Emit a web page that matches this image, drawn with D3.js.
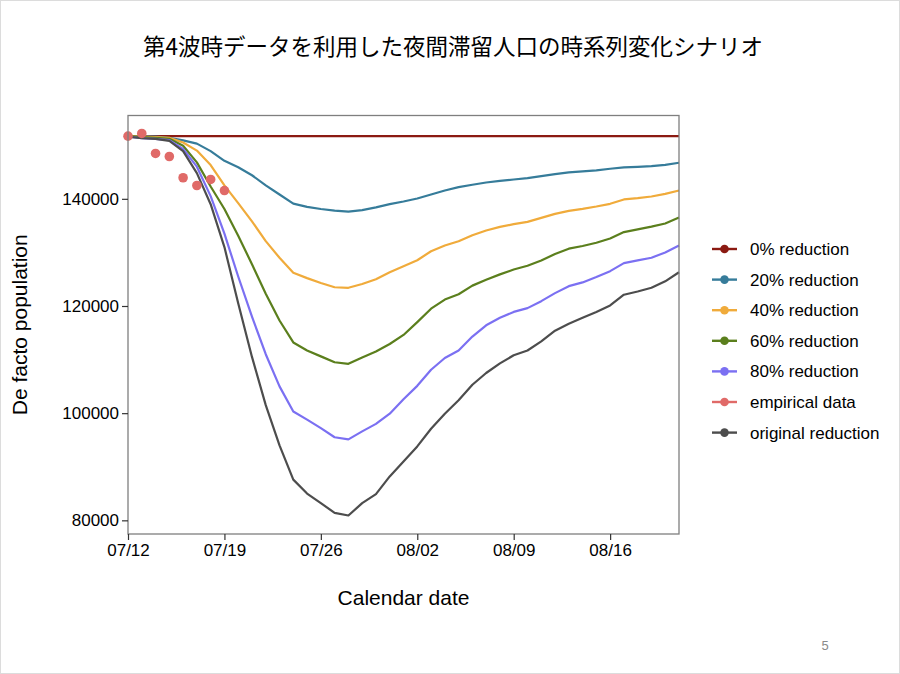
<!DOCTYPE html>
<html>
<head>
<meta charset="utf-8">
<script src="https://cdn.jsdelivr.net/npm/d3@7"></script>
<style>
  body { margin: 0; background: #fff; }
  svg text { font-family: "Liberation Sans", Arial, sans-serif; fill: #000; }
</style>
</head>
<body>
<svg id="chart" width="900" height="674"></svg>
<script>
// daily values from 07/12 to 08/21 (2021)
const startDate = "2021/07/12";
const xTickLabels = ["07/12", "07/19", "07/26", "08/02", "08/09", "08/16"];
const yTicks = [80000, 100000, 120000, 140000];

const reduction0 = [151700, 151700, 151700, 151700, 151700, 151700, 151700, 151700, 151700, 151700,
  151700, 151700, 151700, 151700, 151700, 151700, 151700, 151700, 151700, 151700,
  151700, 151700, 151700, 151700, 151700, 151700, 151700, 151700, 151700, 151700,
  151700, 151700, 151700, 151700, 151700, 151700, 151700, 151700, 151700, 151700, 151700];
const reduction20 = [151700, 151650, 151600, 151400, 150900, 150300, 148900, 147100, 145900, 144400,
  142500, 140800, 139100, 138500, 138100, 137800, 137600, 137900, 138400, 139000,
  139500, 140060, 140810, 141560, 142180, 142620, 143050, 143360, 143610, 143860,
  144240, 144610, 144920, 145110, 145300, 145610, 145860, 145980, 146110, 146350, 146730];
const reduction40 = [151700, 151600, 151500, 151400, 150500, 149000, 146300, 142500, 139200, 135800,
  132100, 129000, 126200, 125200, 124300, 123500, 123400, 124100, 125000, 126300,
  127400, 128540, 130220, 131280, 132090, 133210, 134080, 134770, 135270, 135700,
  136450, 137200, 137760, 138130, 138570, 139070, 139880, 140120, 140440, 140930, 141560];
const reduction60 = [151700, 151500, 151400, 151200, 149900, 146800, 142300, 138100, 133100, 127800,
  122300, 117300, 113200, 111700, 110600, 109500, 109200, 110400, 111500, 112900,
  114600, 117000, 119500, 121200, 122200, 123800, 124900, 125900, 126800, 127500,
  128500, 129700, 130700, 131200, 131800, 132600, 133800, 134300, 134800, 135400, 136500];
const reduction80 = [151600, 151300, 151200, 150950, 149300, 146000, 140500, 133500, 125500, 118000,
  111000, 105000, 100300, 98800, 97200, 95500, 95100, 96600, 98000, 99900,
  102600, 105100, 108100, 110300, 111700, 114300, 116400, 117800, 118900, 119600,
  120900, 122400, 123700, 124400, 125400, 126500, 128000, 128500, 129000, 130000, 131300];
const originalReduction = [151600, 151300, 151200, 150800, 148900, 144800, 139000, 131000, 120500, 110500,
  101500, 94000, 87600, 85000, 83200, 81400, 80900, 83200, 84900, 88200,
  91000, 93800, 97100, 99900, 102400, 105300, 107500, 109300, 110800, 111700,
  113400, 115400, 116700, 117800, 118900, 120100, 122100, 122700, 123400, 124600, 126300];
const empirical = [151700, 152200, 148470, 147900, 143930, 142490, 143610, 141550];

const seriesNames = ["0% reduction", "20% reduction", "40% reduction", "60% reduction",
  "80% reduction", "empirical data", "original reduction"];
const seriesColors = ["#8b1a12", "#367c9a", "#f0ab3b", "#5b7f1d", "#7b70f2", "#e06a68", "#4d4d4d"];

const parseDate = d3.timeParse("%Y/%m/%d");
const start = parseDate(startDate);
const dayOf = i => d3.timeDay.offset(start, i);

const svg = d3.select("#chart");

// slide frame
svg.append("rect")
  .attr("x", 0.5).attr("y", 0.5).attr("width", 899).attr("height", 673)
  .attr("fill", "none").attr("stroke", "#dcdcdc");

const panel = { left: 128, right: 679, top: 115.5, bottom: 534 };

const x = d3.scaleTime()
  .domain([start, dayOf(40)])
  .range([panel.left, panel.right]);
const y = d3.scaleLinear()
  .domain([77450, 155550])
  .range([panel.bottom, panel.top]);

// title
svg.append("text")
  .attr("x", 453).attr("y", 55)
  .attr("text-anchor", "middle")
  .style("font-family", "'Noto Sans CJK JP', sans-serif")
  .style("font-size", "22.5px")
  .text("第4波時データを利用した夜間滞留人口の時系列変化シナリオ");

// lines
const line = d3.line()
  .x((d, i) => x(dayOf(i)))
  .y(d => y(d));

const lineSeries = [
  [reduction0, 0], [reduction20, 1], [reduction40, 2], [reduction60, 3],
  [reduction80, 4], [originalReduction, 6]
];

const plot = svg.append("g");
plot.selectAll("path.series")
  .data(lineSeries)
  .enter()
  .append("path")
  .attr("class", "series")
  .attr("d", d => line(d[0]))
  .attr("fill", "none")
  .attr("stroke", d => seriesColors[d[1]])
  .attr("stroke-width", 2.2)
  .attr("stroke-linejoin", "round");

plot.selectAll("circle.emp")
  .data(empirical)
  .enter()
  .append("circle")
  .attr("class", "emp")
  .attr("cx", (d, i) => x(dayOf(i)))
  .attr("cy", d => y(d))
  .attr("r", 4.8)
  .attr("fill", seriesColors[5]);

// panel border
svg.append("rect")
  .attr("x", panel.left).attr("y", panel.top)
  .attr("width", panel.right - panel.left)
  .attr("height", panel.bottom - panel.top)
  .attr("fill", "none")
  .attr("stroke", "#7f7f7f")
  .attr("stroke-width", 1.3);

// axes
const xAxis = d3.axisBottom(x)
  .tickValues(xTickLabels.map(s => parseDate("2021/" + s)))
  .tickFormat(d3.timeFormat("%m/%d"))
  .tickSize(6).tickPadding(4);
const yAxis = d3.axisLeft(y)
  .tickValues(yTicks)
  .tickFormat(d3.format("d"))
  .tickSize(6).tickPadding(3);

const gx = svg.append("g")
  .attr("transform", `translate(0,${panel.bottom})`)
  .call(xAxis);
const gy = svg.append("g")
  .attr("transform", `translate(${panel.left},0)`)
  .call(yAxis);

[gx, gy].forEach(g => {
  g.select(".domain").remove();
  g.selectAll(".tick line").attr("stroke", "#333").attr("stroke-width", 1.2);
  g.selectAll(".tick text")
    .style("font-family", "'Liberation Sans', Arial, sans-serif")
    .style("font-size", "17px")
    .attr("fill", "#111");
});

// axis titles
svg.append("text")
  .attr("x", (panel.left + panel.right) / 2).attr("y", 605)
  .attr("text-anchor", "middle")
  .style("font-size", "21px")
  .text("Calendar date");
svg.append("text")
  .attr("transform", `translate(27,${(panel.top + panel.bottom) / 2}) rotate(-90)`)
  .attr("text-anchor", "middle")
  .style("font-size", "21px")
  .text("De facto population");

// legend
const legend = svg.append("g").attr("transform", "translate(712,249)");
const items = legend.selectAll("g")
  .data(seriesNames)
  .enter()
  .append("g")
  .attr("transform", (d, i) => `translate(0,${i * 30.6})`);
items.append("line")
  .attr("x1", 0).attr("x2", 25)
  .attr("stroke", (d, i) => seriesColors[i])
  .attr("stroke-width", 2.4);
items.append("circle")
  .attr("cx", 12.5).attr("r", 4.3)
  .attr("fill", (d, i) => seriesColors[i]);
items.append("text")
  .attr("x", 38).attr("dy", "0.35em")
  .style("font-size", "17px")
  .text(d => d);

// page number
svg.append("text")
  .attr("x", 825).attr("y", 650)
  .attr("text-anchor", "middle")
  .style("font-size", "13px")
  .style("fill", "#8a8a8a")
  .text("5");
</script>
</body>
</html>
